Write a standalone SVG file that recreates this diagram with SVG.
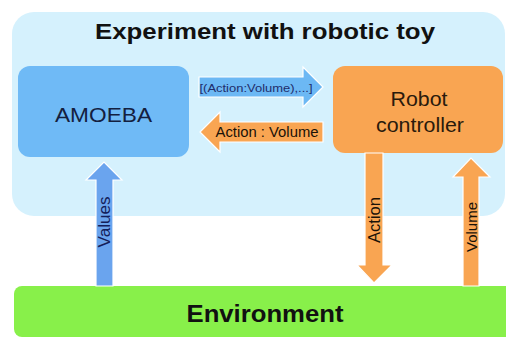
<svg xmlns="http://www.w3.org/2000/svg" width="506" height="338" viewBox="0 0 506 338">
<style>
text{font-family:"Liberation Sans",Arial,sans-serif}
.title{font-weight:bold;font-size:22px;fill:#111}
.env{font-weight:bold;font-size:24px;fill:#111}
.node{font-size:21px}
.lbl{font-size:14px}
.ablue{fill:#6cb8f4;stroke:#fff;stroke-width:1.2}
.avals{fill:#6aa4ee;stroke:#fff;stroke-width:1.2}
.aor{fill:#f9a552;stroke:#fff;stroke-width:1.2}
</style>
<rect width="506" height="338" fill="#fff"/>
<g id="experiment">
<rect x="12" y="12" width="493" height="204" rx="22" fill="#d5f1fd"/>
<text class="title" x="265" y="39" text-anchor="middle" textLength="340" lengthAdjust="spacingAndGlyphs">Experiment with robotic toy</text>
</g>
<g id="environment">
<rect x="14" y="286" width="500" height="51" rx="8" fill="#88f04a"/>
<text class="env" x="265" y="322" text-anchor="middle" textLength="157" lengthAdjust="spacingAndGlyphs">Environment</text>
</g>
<g id="amoeba">
<rect x="18" y="66" width="171" height="91" rx="12" fill="#6fbaf6"/>
<text class="node" x="103.5" y="122" text-anchor="middle" fill="#14203f" font-size="22" textLength="97" lengthAdjust="spacingAndGlyphs">AMOEBA</text>
</g>
<g id="robot-controller">
<rect x="333" y="66" width="170" height="87" rx="12" fill="#f9a552"/>
<text class="node" x="419" y="106" text-anchor="middle" fill="#2a1a0c" textLength="57" lengthAdjust="spacingAndGlyphs">Robot</text>
<text class="node" x="420" y="132" text-anchor="middle" fill="#2a1a0c" textLength="88" lengthAdjust="spacingAndGlyphs">controller</text>
</g>
<g id="connectors">
<polygon class="ablue" points="199,77 303,77 303,67 323,87 303,107 303,97 199,97"/>
<text x="256" y="92" text-anchor="middle" font-size="11" fill="#1f2d6b" textLength="113" lengthAdjust="spacingAndGlyphs">[(Action:Volume),...]</text>
<polygon class="aor" points="323,122 220,122 220,112 200,132 220,152 220,142 323,142"/>
<text class="lbl" x="267" y="137" text-anchor="middle" fill="#1a1208" textLength="103" lengthAdjust="spacingAndGlyphs">Action : Volume</text>
<polygon class="avals" points="96,286 96,180 86,180 104,162 122,180 113,180 113,286"/>
<text transform="translate(110,222) rotate(-90)" text-anchor="middle" font-size="16" fill="#14205a" textLength="51" lengthAdjust="spacingAndGlyphs">Values</text>
<polygon class="aor" points="365,153 365,265 357,265 374,283 392,265 383,265 383,153"/>
<text transform="translate(380,220) rotate(-90)" text-anchor="middle" font-size="16" fill="#1a1208" textLength="46" lengthAdjust="spacingAndGlyphs">Action</text>
<polygon class="aor" points="463,286 463,177 453,177 471,158 490,177 479,177 479,286"/>
<text transform="translate(477,227) rotate(-90)" text-anchor="middle" font-size="14" fill="#1a1208" textLength="50" lengthAdjust="spacingAndGlyphs">Volume</text>
</g>
</svg>
